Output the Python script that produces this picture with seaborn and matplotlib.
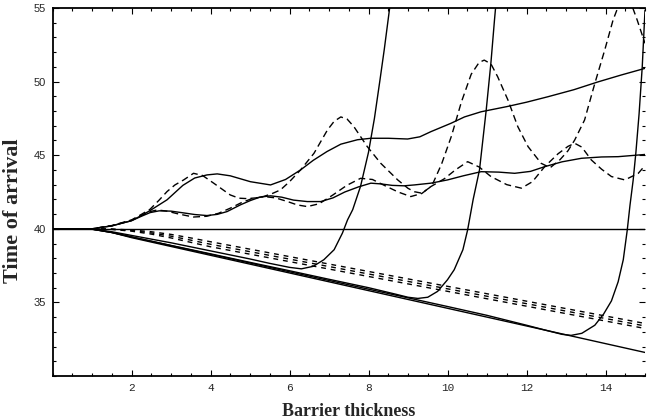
import matplotlib
matplotlib.use("Agg")
import matplotlib.pyplot as plt
from matplotlib.ticker import MultipleLocator, FixedLocator
import seaborn as sns

# ---------------- data ----------------
free_x = [0, 15]
free_t = [40, 40]

base_x = [0, 0.5, 1.0, 1.5, 2.0, 15.0]
base_t = [40, 40, 39.97, 39.75, 39.4, 31.6]

bundle_x = [0, 1, 1.5, 2, 2.5, 3, 3.5, 4, 15]
bundle_mid_t = [40, 40, 39.97, 39.88, 39.72, 39.5, 39.23, 38.95, 33.4]
bundle_up_t = [40, 40, 39.98, 39.92, 39.8, 39.62, 39.38, 39.12, 33.57]
bundle_lo_t = [40, 40, 39.96, 39.84, 39.64, 39.38, 39.08, 38.78, 33.23]

res1_x = [0, 0.5, 1, 1.5, 2, 3, 4, 5, 5.5, 6.0, 6.3, 6.6, 6.87, 7.13, 7.34, 7.47,
          7.6, 7.8, 8.0, 8.15, 8.29, 8.4, 8.55]
res1_t = [40, 40, 39.98, 39.8, 39.55, 39.05, 38.5, 37.95, 37.65, 37.38, 37.28, 37.45,
          37.9, 38.58, 39.71, 40.61, 41.3, 42.9, 45.2, 47.5, 50.1, 52.2, 55.3]

res2_x = [0, 0.5, 1, 1.5, 2, 3, 4, 5, 6, 7, 8, 8.7, 9.0, 9.25, 9.5, 9.75, 10.0,
          10.17, 10.39, 10.51, 10.65, 10.81, 10.98, 11.1, 11.19, 11.25]
res2_t = [40, 40, 39.98, 39.75, 39.45, 38.87, 38.3, 37.72, 37.15, 36.57, 36.0, 35.55,
          35.35, 35.27, 35.35, 35.75, 36.54, 37.22, 38.58, 39.93, 42.0, 44.0, 48.07,
          51.3, 54.2, 56.0]

res3_x = [0, 0.5, 1, 1.5, 2, 4, 6, 8, 10, 11, 12, 12.5, 12.9, 13.13, 13.4, 13.73,
          13.95, 14.15, 14.32, 14.45, 14.55, 14.62, 14.7, 14.77, 14.85, 14.93, 15.0]
res3_t = [40, 40, 39.98, 39.75, 39.45, 38.27, 37.08, 35.9, 34.72, 34.12, 33.45, 33.1,
          32.83, 32.76, 32.9, 33.45, 34.2, 35.1, 36.4, 37.9, 39.9, 41.6, 43.3, 45.2,
          47.8, 51.0, 54.85]

upA_x = [0, 0.5, 1.0, 1.5, 2.0, 2.25, 2.47, 2.9, 3.3, 3.6, 3.91, 4.17, 4.5, 5.01,
         5.52, 5.9, 6.28, 6.6, 6.95, 7.3, 7.72, 8.06, 8.5, 8.99, 9.3, 9.58, 10.09,
         10.43, 10.85, 11.5, 12.0, 12.54, 13.2, 13.81, 14.4, 15.0]
upA_t = [40, 40, 40.0, 40.2, 40.55, 40.9, 41.24, 41.97, 42.95, 43.45, 43.66, 43.73,
         43.6, 43.2, 42.98, 43.35, 44.0, 44.65, 45.25, 45.75, 46.05, 46.15, 46.15,
         46.1, 46.25, 46.6, 47.17, 47.6, 47.95, 48.3, 48.6, 48.97, 49.45, 49.98,
         50.45, 50.9]

upB_x = [0, 0.5, 1.0, 1.5, 2.0, 2.25, 2.47, 2.7, 3.0, 3.32, 3.6, 3.91, 4.17, 4.42,
         4.76, 5.01, 5.25, 5.52, 5.8, 6.1, 6.45, 6.79, 7.1, 7.4, 7.75, 8.06, 8.31,
         8.6, 8.9, 9.16, 9.58, 10.0, 10.4, 10.85, 11.3, 11.7, 12.1, 12.46, 12.9,
         13.39, 13.9, 14.32, 15.0]
upB_t = [40, 40, 40.0, 40.2, 40.55, 40.85, 41.1, 41.22, 41.2, 41.08, 40.97, 40.9,
         40.98, 41.17, 41.63, 41.92, 42.15, 42.24, 42.15, 41.95, 41.85, 41.85, 42.1,
         42.5, 42.85, 43.1, 43.05, 42.95, 42.92, 42.98, 43.1, 43.32, 43.6, 43.88,
         43.85, 43.77, 43.9, 44.22, 44.55, 44.79, 44.88, 44.9, 45.05]

dashC_x = [0, 0.5, 1.0, 1.5, 2.0, 2.25, 2.47, 2.7, 2.9, 3.1, 3.32, 3.57, 3.8, 4.08,
           4.3, 4.5, 4.72, 4.93, 5.15, 5.35, 5.55, 5.77, 6.0, 6.28, 6.62, 6.96, 7.13,
           7.3, 7.46, 7.63, 7.97, 8.31, 8.74, 9.0, 9.16, 9.35, 9.6, 9.85, 10.1, 10.35,
           10.6, 10.8, 10.93, 11.1, 11.27, 11.53, 11.78, 12.04, 12.37, 12.6, 12.85,
           13.05, 13.22, 13.47, 13.73, 13.98, 14.19, 14.35, 14.5, 14.65, 14.8, 15.0]
dashC_t = [40, 40, 40.0, 40.22, 40.6, 40.98, 41.33, 41.95, 42.53, 42.98, 43.32, 43.77,
           43.62, 43.1, 42.68, 42.3, 42.08, 42.05, 42.1, 42.2, 42.38, 42.64, 43.2, 44.0,
           45.13, 46.71, 47.3, 47.6, 47.45, 46.94, 45.58, 44.45, 43.32, 42.75, 42.52,
           42.42, 42.9, 44.4, 46.3, 48.6, 50.5, 51.3, 51.46, 51.2, 50.33, 48.75, 46.94,
           45.58, 44.45, 44.15, 44.7, 45.3, 46.03, 47.39, 49.88, 52.14, 54.17, 55.3,
           55.7, 55.3, 54.2, 52.6]

dashD_x = [0, 0.5, 1.0, 1.5, 2.0, 2.25, 2.47, 2.65, 2.9, 3.2, 3.57, 3.9, 4.2, 4.5,
           4.8, 5.05, 5.35, 5.65, 5.95, 6.2, 6.45, 6.75, 7.1, 7.45, 7.8, 8.1, 8.4,
           8.75, 9.07, 9.35, 9.58, 9.92, 10.2, 10.51, 10.8, 11.1, 11.5, 11.87, 12.15,
           12.46, 12.8, 13.05, 13.22, 13.4, 13.64, 13.9, 14.15, 14.49, 14.83, 15.0]
dashD_t = [40, 40, 40.0, 40.2, 40.58, 40.9, 41.17, 41.28, 41.2, 41.0, 40.8, 40.85,
           41.05, 41.4, 41.8, 42.05, 42.19, 42.1, 41.85, 41.62, 41.51, 41.7, 42.3,
           42.95, 43.43, 43.35, 42.95, 42.5, 42.19, 42.4, 42.87, 43.4, 44.0, 44.56,
           44.2, 43.55, 43.0, 42.76, 43.2, 44.22, 45.1, 45.6, 45.81, 45.55, 44.68,
           44.05, 43.55, 43.32, 43.77, 44.3]

x_major = [2, 4, 6, 8, 10, 12, 14]
y_major = [35, 40, 45, 50, 55]
x_label = "Barrier thickness"
y_label = "Time of arrival"

# ---------------- figure ----------------
sns.set_style("ticks")
plt.rcParams["font.family"] = ["Liberation Sans", "DejaVu Sans"]

fig = plt.figure(figsize=(6.47, 4.20), dpi=100)
ax = fig.add_axes([52.5 / 647, 44 / 420, 592.5 / 647, 368 / 420])

solid = dict(color="black", lw=1.0, estimator=None, sort=False, ax=ax, legend=False)

sns.lineplot(x=free_x, y=free_t, **solid)
sns.lineplot(x=base_x, y=base_t, **solid)
for yy in (bundle_up_t, bundle_mid_t, bundle_lo_t):
    sns.lineplot(x=bundle_x, y=yy, linestyle=(0, (3.5, 3.5)), **solid)
sns.lineplot(x=res1_x, y=res1_t, **solid)
sns.lineplot(x=res2_x, y=res2_t, **solid)
sns.lineplot(x=res3_x, y=res3_t, **solid)
sns.lineplot(x=upA_x, y=upA_t, **solid)
sns.lineplot(x=upB_x, y=upB_t, **solid)
sns.lineplot(x=dashC_x, y=dashC_t, linestyle=(0, (5, 3)), **solid)
sns.lineplot(x=dashD_x, y=dashD_t, linestyle=(0, (5, 3)), **solid)

ax.set_xlim(0, 15)
ax.set_ylim(30, 55)
ax.xaxis.set_major_locator(FixedLocator(x_major))
ax.yaxis.set_major_locator(FixedLocator(y_major))
ax.xaxis.set_minor_locator(MultipleLocator(0.5))
ax.yaxis.set_minor_locator(MultipleLocator(1))

ax.tick_params(which="both", direction="in", top=True, right=True,
               bottom=True, left=True, width=0.8, color="black")
ax.tick_params(which="major", length=4.5)
ax.tick_params(which="minor", length=2.5)
ax.tick_params(axis="x", which="major", pad=5)
ax.tick_params(axis="y", which="major", pad=5)

for lab in ax.get_xticklabels():
    lab.set_fontfamily(["Liberation Mono", "DejaVu Sans Mono"])
    lab.set_fontsize(8)
for lab in ax.get_yticklabels():
    lab.set_fontfamily(["Liberation Sans", "DejaVu Sans"])
    lab.set_fontsize(8)

for side in ("left", "bottom", "top"):
    ax.spines[side].set_linewidth(1.3)
    ax.spines[side].set_color("black")
ax.spines["right"].set_visible(False)

ax.set_xlabel(x_label, fontfamily=["Liberation Serif", "DejaVu Serif"],
              fontweight="bold", fontsize=13)
ax.set_ylabel(y_label, fontfamily=["Liberation Serif", "DejaVu Serif"],
              fontweight="bold", fontsize=16)
ax.xaxis.set_label_coords(0.5, -0.074)
ax.yaxis.set_label_coords(-0.05, 0.45)

fig.savefig("out.png", dpi=100)
